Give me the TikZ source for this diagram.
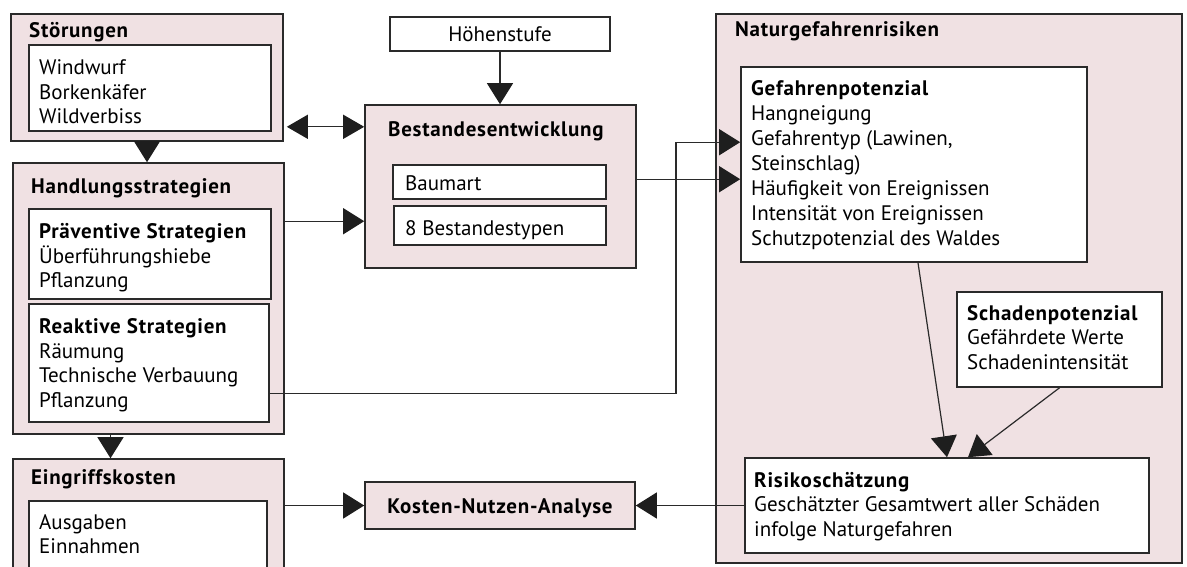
\documentclass[tikz,border=0pt]{standalone}
\usepackage{fontspec}
\setmainfont{PT Sans}
\newfontfamily\boldwide[LetterSpace=3.5]{PT Sans Bold}
\usetikzlibrary{arrows.meta,fit}
\definecolor{pinkc}{HTML}{F0E1E3}
\definecolor{linec}{HTML}{2A2A2A}
\definecolor{headc}{HTML}{1E1E1E}
\tikzset{
  outerbox/.style={draw=linec, line width=1.6pt, fill=pinkc, inner sep=0pt},
  innerbox/.style={draw=linec, line width=1.6pt, fill=white, inner sep=0pt},
  txt/.style={anchor=base west, inner sep=0pt, font=\fontsize{21}{24}\selectfont},
  btxt/.style={txt, font=\fontsize{21}{24}\boldwide},
  arr/.style={-{Triangle[length=21pt,width=26pt,color=headc]}, line width=1.2pt, draw=linec},
  darr/.style={{Triangle[length=21pt,width=24pt,color=headc]}-{Triangle[length=21pt,width=24pt,color=headc]}, line width=1.2pt, draw=linec}
}
\begin{document}
\begin{tikzpicture}[x=1pt,y=-1pt]
\clip (0,0) rectangle (1187,566);
\fill[white] (0,0) rectangle (1187,566);
% boxes
\node[outerbox, fit={(11,14) (283,141)}] (st) {};
\node[innerbox, fit={(29,45) (271,131)}] (stI) {};
\node[outerbox, fit={(13,163) (284,434)}] (hs) {};
\node[innerbox, fit={(29,209) (271,299)}] (pv) {};
\node[innerbox, fit={(29,304) (269,422)}] (rk) {};
\node[outerbox, fit={(13,459) (284,600)}] (ek) {};
\node[innerbox, fit={(29,501) (267,600)}] (ekI) {};
\node[innerbox, line width=1.3pt, fit={(390,17) (610,51)}] (hoe) {};
\node[outerbox, fit={(365,105) (636,268)}] (be) {};
\node[innerbox, fit={(393,165) (606,199)}] (ba) {};
\node[innerbox, fit={(394,206) (606,245)}] (bt) {};
\node[outerbox, fit={(365,482) (635,529)}] (kn) {};
\node[outerbox, fit={(716,14) (1182,563)}] (ng) {};
\node[innerbox, fit={(741,67) (1087,262)}] (gp) {};
\node[innerbox, fit={(957,292) (1162,387)}] (sp) {};
\node[innerbox, fit={(745,458) (1149,553)}] (rs) {};
% texts
\node[btxt] (t1) at (29,37) {Störungen};
\node[txt] (t2) at (39,74) {Windwurf};
\node[txt] (t3) at (39,99) {Borkenkäfer};
\node[txt] (t4) at (39,123) {Wildverbiss};
\node[btxt] (t5) at (31,193) {Handlungsstrategien};
\node[btxt] (t6) at (39,238) {Präventive Strategien};
\node[txt] (t7) at (39,263) {Überführungshiebe};
\node[txt] (t8) at (39,287) {Pflanzung};
\node[btxt] (t9) at (39,333) {Reaktive Strategien};
\node[txt] (t10) at (39,358) {Räumung};
\node[txt] (t11) at (39,382) {Technische Verbauung};
\node[txt] (t12) at (39,407) {Pflanzung};
\node[btxt] (t13) at (31,484) {Eingriffskosten};
\node[txt] (t14) at (39,529) {Ausgaben};
\node[txt] (t15) at (39,553) {Einnahmen};
\node[txt, anchor=base] (t16) at (500,41) {Höhenstufe};
\node[btxt] (t17) at (388,136) {Bestandesentwicklung};
\node[txt] (t18) at (405,190) {Baumart};
\node[txt] (t19) at (405,235) {8 Bestandestypen};
\node[btxt, anchor=base] (t20) at (500,513) {Kosten-Nutzen-Analyse};
\node[btxt] (t21) at (735,36) {Naturgefahrenrisiken};
\node[btxt] (t22) at (751,95) {Gefahrenpotenzial};
\node[txt] (t23) at (751,120) {Hangneigung};
\node[txt] (t24) at (751,145) {Gefahrentyp (Lawinen,};
\node[txt] (t25) at (751,170) {Steinschlag)};
\node[txt] (t26) at (751,195) {Häufigkeit von Ereignissen};
\node[txt] (t27) at (751,220) {Intensität von Ereignissen};
\node[txt] (t28) at (751,245) {Schutzpotenzial des Waldes};
\node[btxt] (t29) at (967,320) {Schadenpotenzial};
\node[txt] (t30) at (967,344) {Gefährdete Werte};
\node[txt] (t31) at (967,369) {Schadenintensität};
\node[btxt] (t32) at (754,487) {Risikoschätzung};
\node[txt] (t33) at (754,511) {Geschätzter Gesamtwert aller Schäden};
\node[txt] (t34) at (754,536) {infolge Naturgefahren};
% helper coordinates
\coordinate (d1) at ([xshift=3pt,yshift=15pt]st.south east);
\coordinate (h2) at ([xshift=-38pt]hs.south);
\coordinate (p1) at ([yshift=-13pt]pv.north -| hs.east);
\coordinate (r1) at ([yshift=29pt]rk.south east);
\coordinate (kx) at (676,0);
\coordinate (g1) at ([yshift=-76pt]gp.north west);
\coordinate (g2) at ([yshift=-113pt]gp.north west);
% connectors
\draw[arr] (st.south) -- (st.south |- hs.north);
\draw[darr] (d1) -- (d1 -| be.west);
\draw[arr] (hoe.south) -- (hoe.south |- be.north);
\draw[arr] (p1) -- (p1 -| be.west);
\draw[arr] (r1) -| (kx |- g1) -- (g1);
\draw[arr] (be.east |- g2) -- (g2);
\draw[arr] (h2) -- (h2 |- ek.north);
\draw[arr] ([xshift=4pt]gp.south) -- (rs.north);
\draw[arr] (sp.south) -- ([xshift=21pt]rs.north);
\draw[arr] (kn.west -| ek.east) -- (kn.west);
\draw[arr] (rs.west) -- (rs.west -| kn.east);
\end{tikzpicture}
\end{document}
